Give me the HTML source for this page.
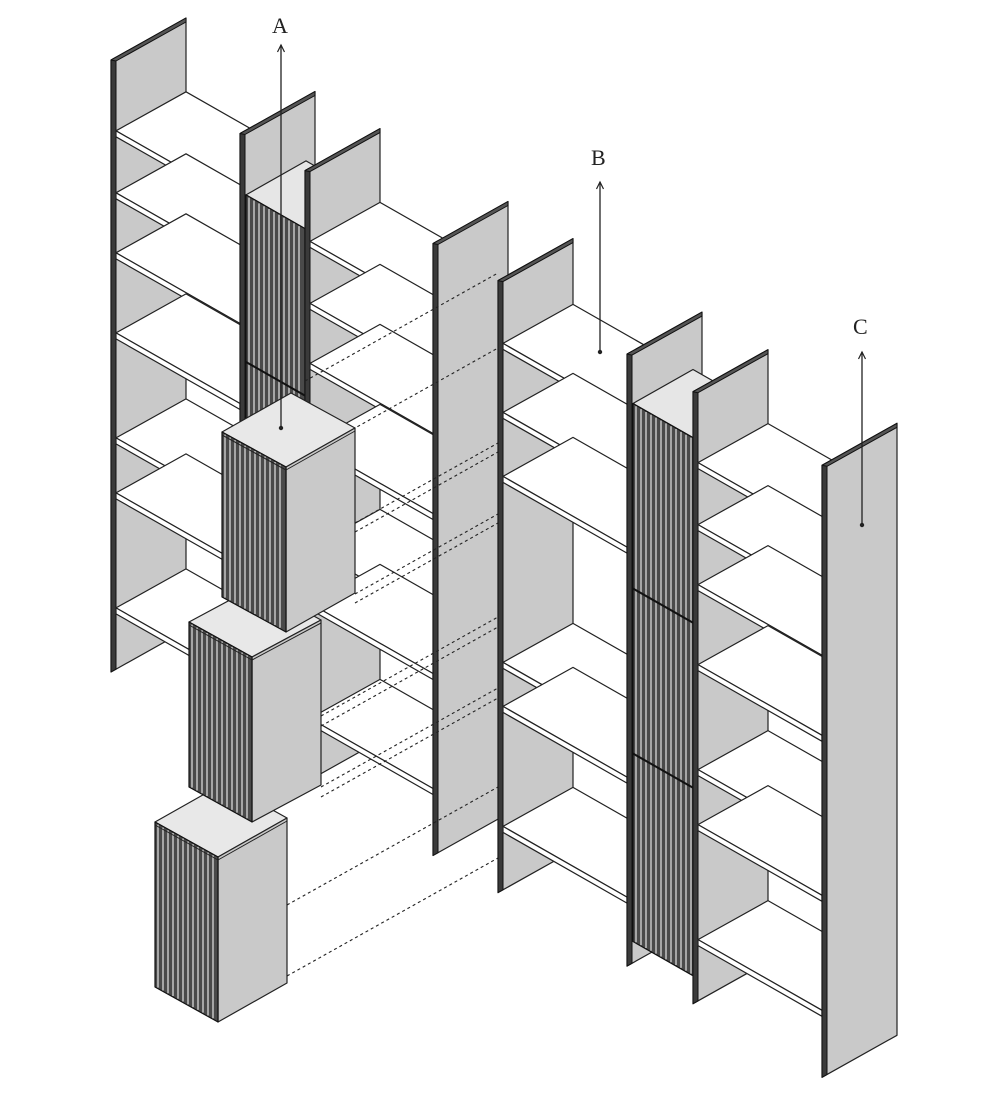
<!DOCTYPE html>
<html><head><meta charset="utf-8"><style>
html,body{margin:0;padding:0;background:#fff;width:1000px;height:1099px;overflow:hidden}
svg{display:block}
text{font-family:"Liberation Serif",serif;font-size:22px;fill:#222}
</style></head><body>
<svg id="s" width="1000" height="1099" viewBox="0 0 1000 1099" xmlns="http://www.w3.org/2000/svg">
<g id="g"></g>
<text x="272" y="33">A</text>
<text x="591" y="165">B</text>
<text x="853" y="334">C</text>
</svg>
<script>
const g=document.getElementById('g');
let out='';
const S=0.57, VX=75, VY=-42;
function yt(x){return 60+S*(x-111);}
function poly(pts,fill,stroke,sw,extra){out+=`<polygon points="${pts.map(p=>p[0].toFixed(1)+','+p[1].toFixed(1)).join(' ')}" fill="${fill}" stroke="${stroke||'#222'}" stroke-width="${sw||1.2}" stroke-linejoin="round" ${extra||''}/>`;}
function line(x1,y1,x2,y2,st,sw,extra){out+=`<line x1="${x1}" y1="${y1}" x2="${x2}" y2="${y2}" stroke="${st}" stroke-width="${sw}" ${extra||''}/>`;}
const H=612;
function panel(x){
  const y=yt(x);
  poly([[x,y],[x+VX,y+VY],[x+VX,y+VY+H],[x,y+H]],'#c9c9c9');
  poly([[x,y],[x+5,y-2.8],[x+5,y+H-2.8],[x,y+H]],'#3a3a3a','#111',1);
  poly([[x,y],[x+VX,y+VY],[x+VX,y+VY+4],[x+5,y+1]],'#555','#111',1);
}
function shelves(xa,xb,ds){
  for(const d of ds){
    const x1=xa+5,y1=yt(x1)+d,x2=xb,y2=yt(xb)+d;
    poly([[x1,y1],[x2,y2],[x2+70,y2-39],[x1+70,y1-39]],'#fff');
    poly([[x1,y1],[x2,y2],[x2,y2+6],[x1,y1+6]],'#fff');
  }
}
function fluted(xa,xb,ytop,ybot,divs){
  // front face along u
  const y1=ytop, y2=ytop+S*(xb-xa);
  const hh=ybot-ytop;
  poly([[xa,y1],[xb,y2],[xb,y2+hh],[xa,y1+hh]],'#4a4a4a','#111',1.2);
  for(let x=xa+3;x<xb-1;x+=5){
    const yy=y1+S*(x-xa);
    line(x,yy+1,x,yy+hh-1,'#bdbdbd',1.6);
  }
  for(const d of divs){line(xa,y1+d,xb,y2+d,'#111',2);}
}
function flutedTop(xa,xb,ytop){
  const y2=ytop+S*(xb-xa);
  poly([[xa,ytop],[xb,y2],[xb+60,y2-34],[xa+60,ytop-34]],'#e6e6e6');
}
const D7=[68,130,190,270,375,430,545];
const D6=[60,129,193,379,423,543];
// Unit A
panel(111); shelves(111,240,D7);
panel(240);
flutedTop(246,305,yt(246)+58);
fluted(246,305,yt(246)+58,yt(246)+58+300,[167]);
panel(305); shelves(305,433,D7);
panel(433);
// Unit B
panel(498); shelves(498,627,D6);
panel(627);
flutedTop(633,693,yt(633)+46);
fluted(633,693,yt(633)+46,yt(633)+46+538,[185,350]);
panel(693); shelves(693,822,D7);
panel(822);
// dashed
const dash=[[305,381,273],[305,456,348],[355,523,443],[355,532,452],[355,594,514],[355,603,523],[321,716,617],[321,726,627],[321,787,688],[321,797,698],[287,905,787],[287,976,858]];
for(const [x,y,ye] of dash){line(x,y,498,ye,'#222',1.1,'stroke-dasharray="3,3"');}
// boxes
function box(lx,ly,fx,fy,rx,ry,h){
  const bx=lx+(rx-fx),by=ly+(ry-fy);
  poly([[lx,ly],[fx,fy],[rx,ry],[bx,by]],'#e8e8e8');
  poly([[fx,fy],[rx,ry],[rx,ry+h],[fx,fy+h]],'#c9c9c9');
  poly([[lx,ly],[fx,fy],[fx,fy+h],[lx,ly+h]],'#4a4a4a','#111',1.2);
  for(let x=lx+3;x<fx-1;x+=5){const yy=ly+(fy-ly)*(x-lx)/(fx-lx);line(x,yy+1,x,yy+h-1,'#bdbdbd',1.6);}
  line(lx,ly+3,fx,fy+3,'#222',1);line(fx,fy+3,rx,ry+3,'#222',1);
}
box(155,822,218,857,287,818,165);
box(189,622,252,657,321,620,165);
box(222,432,286,467,355,428,165);
// arrows
function arrow(x,y1,y2){line(x,y1,x,y2,'#222',1.3);out+=`<circle cx="${x}" cy="${y1}" r="2.2" fill="#222"/>`;out+=`<polyline points="${x-3.5},${y2+7} ${x},${y2} ${x+3.5},${y2+7}" fill="none" stroke="#222" stroke-width="1.2"/>`;}
arrow(281,428,45);
arrow(600,352,182);
arrow(862,525,352);
g.innerHTML=out;
</script>
</body></html>
